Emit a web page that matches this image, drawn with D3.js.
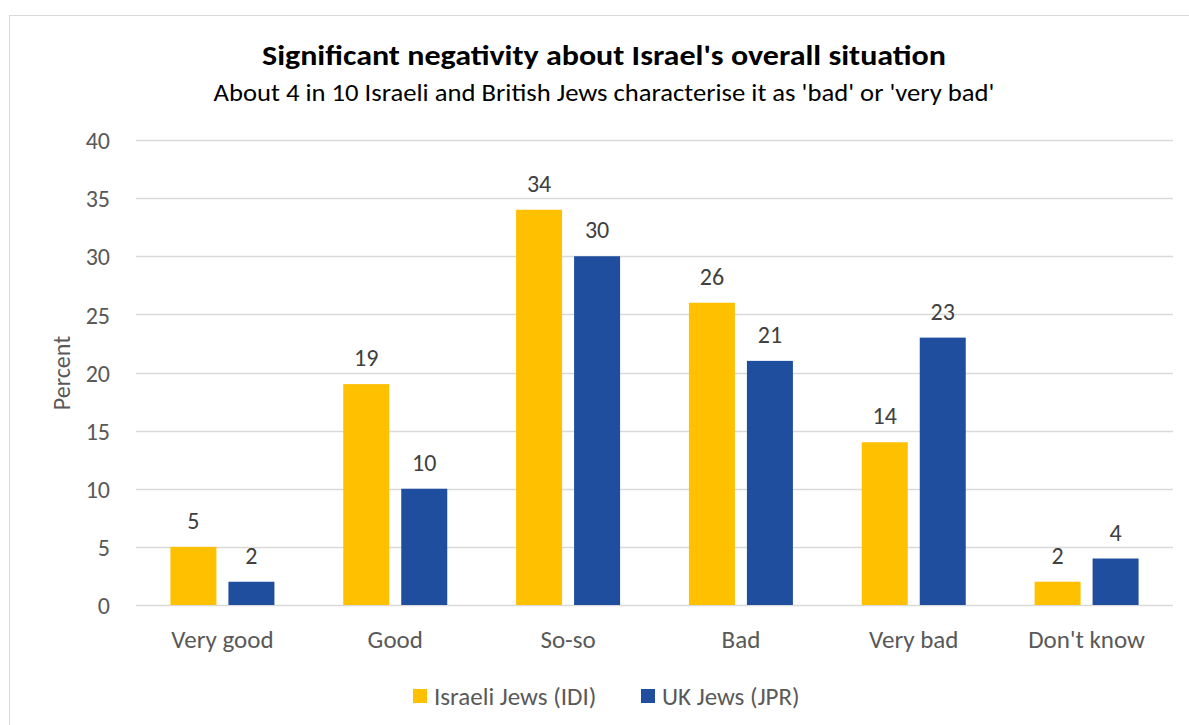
<!DOCTYPE html>
<html>
<head>
<meta charset="utf-8">
<script src="https://cdn.jsdelivr.net/npm/d3@7"></script>
<style>
  html, body { margin: 0; padding: 0; background: #fff; }
  svg { display: block; font-family: Carlito, Calibri, Lato, "Open Sans", sans-serif; }
</style>
</head>
<body>
<svg id="chart" width="1189" height="725"></svg>
<script>
// Responses to "How would you describe Israel's overall situation?"
const categories = ["Very good", "Good", "So-so", "Bad", "Very bad", "Don't know"];
const seriesNames = ["Israeli Jews (IDI)", "UK Jews (JPR)"];
const israeliJews = [5, 19, 34, 26, 14, 2];
const ukJews = [2, 10, 30, 21, 23, 4];
const yTicks = [0, 5, 10, 15, 20, 25, 30, 35, 40];
const colors = ["#FFC000", "#1F4E9F"];

const FONT = "Carlito, Calibri, Lato, 'Open Sans', sans-serif";
const svg = d3.select("#chart");
const W = 1189, H = 725;
const plot = { left: 136, right: 1173, top: 140, bottom: 605 };

// Outer chart frame
svg.append("rect")
  .attr("x", 9.5).attr("y", 15.5)
  .attr("width", W + 20).attr("height", H + 20)
  .attr("fill", "#fff").attr("stroke", "#d9d9d9").attr("stroke-width", 1);

const x0 = d3.scaleBand().domain(categories).range([plot.left, plot.right]).paddingInner(0).paddingOuter(0);
const barW = 46, innerGap = 12;
const x1 = d3.scaleBand().domain(seriesNames)
  .range([x0.bandwidth() / 2 - barW - innerGap / 2, x0.bandwidth() / 2 + barW + innerGap / 2])
  .paddingInner(innerGap / (barW + innerGap));
const y = d3.scaleLinear().domain([0, 40]).range([plot.bottom, plot.top]);

// Gridlines
svg.append("g")
  .selectAll("line").data(yTicks).join("line")
  .attr("x1", plot.left).attr("x2", plot.right)
  .attr("y1", d => Math.round(y(d)) + 0.5).attr("y2", d => Math.round(y(d)) + 0.5)
  .attr("stroke", "#d9d9d9").attr("stroke-width", 1.5);

// Y axis labels
const yAxis = d3.axisLeft(y).tickValues(yTicks).tickSize(0).tickPadding(0);
const gy = svg.append("g").attr("transform", `translate(${plot.left - 26},0)`).call(yAxis);
gy.select(".domain").remove();
gy.selectAll("text")
  .attr("font-size", 24).attr("fill", "#595959").attr("dy", "0.36em")
  .style("font-family", FONT);

// X axis labels
const xAxis = d3.axisBottom(x0).tickSize(0).tickPadding(0);
const gx = svg.append("g").attr("transform", `translate(0,${plot.bottom})`).call(xAxis);
gx.select(".domain").remove();
gx.selectAll("text")
  .attr("font-size", 25).attr("fill", "#595959").attr("y", 43).attr("dy", null)
  .style("font-family", FONT);

// Bars
const rows = categories.map((c, i) => ({ cat: c, vals: [israeliJews[i], ukJews[i]] }));
const groups = svg.append("g").selectAll("g").data(rows).join("g")
  .attr("transform", d => `translate(${x0(d.cat)},0)`);

groups.selectAll("rect")
  .data(d => d.vals.map((v, k) => ({ key: seriesNames[k], v, k })))
  .join("rect")
  .attr("x", d => x1(d.key))
  .attr("width", x1.bandwidth())
  .attr("y", d => y(d.v))
  .attr("height", d => y(0) - y(d.v))
  .attr("fill", d => colors[d.k]);

// Value labels
groups.selectAll("text.val")
  .data(d => d.vals.map((v, k) => ({ key: seriesNames[k], v, k })))
  .join("text").attr("class", "val")
  .attr("x", d => x1(d.key) + x1.bandwidth() / 2)
  .attr("y", d => y(d.v) - 18)
  .attr("text-anchor", "middle")
  .attr("font-size", 24).attr("fill", "#404040")
  .text(d => d.v);

// Title and subtitle
svg.append("text")
  .attr("x", 604).attr("y", 65).attr("text-anchor", "middle")
  .attr("font-size", 28).attr("font-weight", "bold").attr("fill", "#000")
  .attr("textLength", 684).attr("lengthAdjust", "spacingAndGlyphs")
  .text("Significant negativity about Israel's overall situation");
svg.append("text")
  .attr("x", 604).attr("y", 101).attr("text-anchor", "middle")
  .attr("font-size", 24).attr("fill", "#000")
  .attr("textLength", 781).attr("lengthAdjust", "spacingAndGlyphs")
  .text("About 4 in 10 Israeli and British Jews characterise it as 'bad' or 'very bad'");

// Y axis title
svg.append("text")
  .attr("transform", `translate(70,373) rotate(-90)`)
  .attr("text-anchor", "middle")
  .attr("font-size", 24).attr("fill", "#595959")
  .text("Percent");

// Legend
const legendItems = [{ name: seriesNames[0], x: 413 }, { name: seriesNames[1], x: 641 }];
const lg = svg.append("g").selectAll("g").data(legendItems).join("g")
  .attr("transform", d => `translate(${d.x},689)`);
lg.append("rect").attr("width", 14).attr("height", 14)
  .attr("fill", (d, i) => colors[i]);
lg.append("text").attr("x", 21).attr("y", 16)
  .attr("font-size", 25).attr("fill", "#595959")
  .text(d => d.name);
</script>
</body>
</html>
